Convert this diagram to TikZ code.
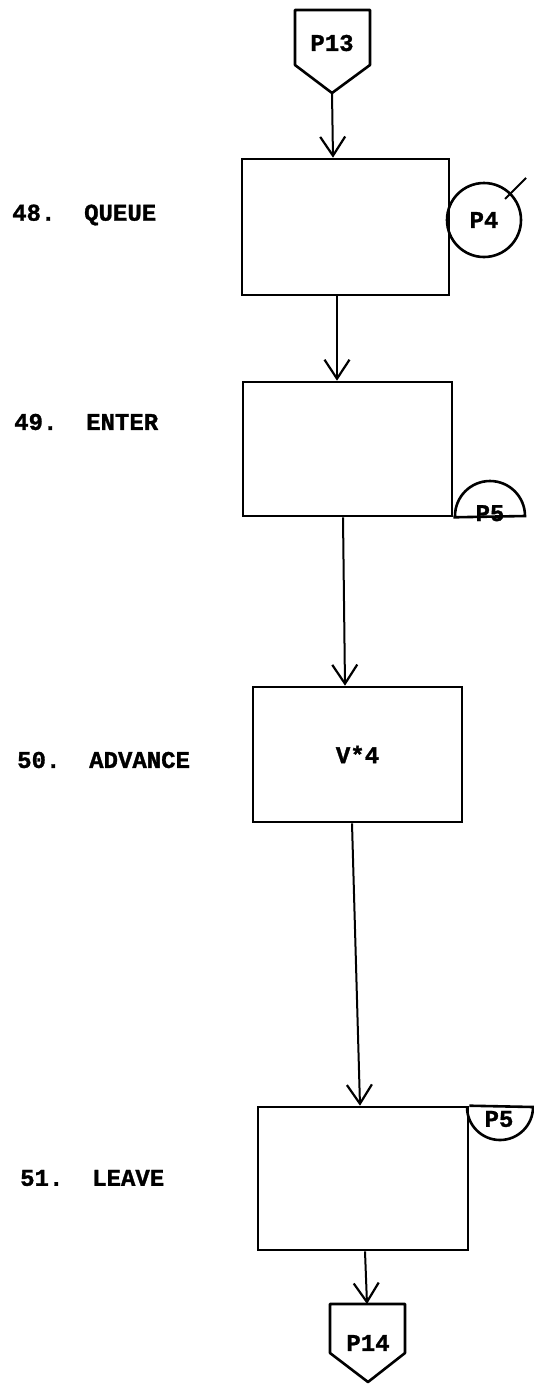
\documentclass[tikz,border=0pt]{standalone}
\usepackage{fontspec}
\setmonofont{Liberation Mono}[BoldFeatures={FakeBold=1.2}]
\usetikzlibrary{arrows.meta}
\begin{document}
\begin{tikzpicture}[x=1pt,y=1pt,
  lw/.style={line width=2.6pt},
  blk/.style={draw, lw, rectangle, inner sep=0pt},
  txt/.style={font=\ttfamily\bfseries\fontsize{24}{24}\selectfont, inner sep=0pt},
  arr/.style={line width=2pt, -{Straight Barb[length=19pt,width=25pt,line width=2.2pt]}},
  conn/.style={line width=2pt}]
\useasboundingbox (0,0) rectangle (534,-1384);
% P13 off-page connector
\draw[lw, line join=round] (295,-10) -- (370,-10) -- (370,-65) -- (332,-93) -- (295,-65) -- cycle;
\node[txt] (p13) at (332,-43) {P13};
\coordinate (p13tip) at (332,-93);
% blocks
\node[blk, minimum width=207pt, minimum height=136pt] (b1) at (345.5,-227) {};
\node[blk, minimum width=209pt, minimum height=134pt] (b2) at (347.5,-449) {};
\node[blk, minimum width=209pt, minimum height=135pt, txt] (b3) at (357.5,-754.5) {V*4};
\node[blk, minimum width=210pt, minimum height=143pt] (b4) at (363,-1178.5) {};
% P14
\draw[lw, line join=round] (330,-1304) -- (405,-1304) -- (405,-1353) -- (368,-1382) -- (330,-1353) -- cycle;
\node[txt] (p14) at (368,-1343) {P14};
\coordinate (p14top) at (367,-1304);
% connectors
\draw[arr] (p13tip) -- ([xshift=-12.5pt]b1.north);
\draw[arr] ([xshift=-8.5pt]b1.south) -- ([xshift=-10.5pt]b2.north);
\draw[arr] ([xshift=-4.5pt]b2.south) -- ([xshift=-12.5pt]b3.north);
\draw[arr] ([xshift=-5.5pt]b3.south) -- ([xshift=-3pt]b4.north);
\draw[arr] ([xshift=2pt]b4.south) -- (p14top);
% P4 circle with tick
\node[draw, lw, circle, minimum size=74pt, inner sep=0pt, txt] (p4) at (484,-220) {P4};
\draw[line width=2pt] ([shift={(-6pt,-6pt)}]p4.north east) -- ++(21pt,21pt);
% P5 on ENTER
\node[txt, anchor=base] (p5a) at (490,-521) {P5};
\draw[lw] (b2.south east) -- (525,-516) arc (0:180:35pt);
% P5 on LEAVE
\node[txt] (p5b) at (499,-1119) {P5};
\draw[lw] (b4.north east) -- (533,-1107) arc (0:-180:33pt);
% labels
\node[txt, anchor=west] (l48) at (12,-215) {48.\ \ QUEUE};
\node[txt, anchor=west] (l49) at (14,-422) {49.\ \ ENTER};
\node[txt, anchor=west] (l50) at (17,-760) {50.\ \ ADVANCE};
\node[txt, anchor=west] (l51) at (20,-1178) {51.\ \ LEAVE};
\end{tikzpicture}
\end{document}
